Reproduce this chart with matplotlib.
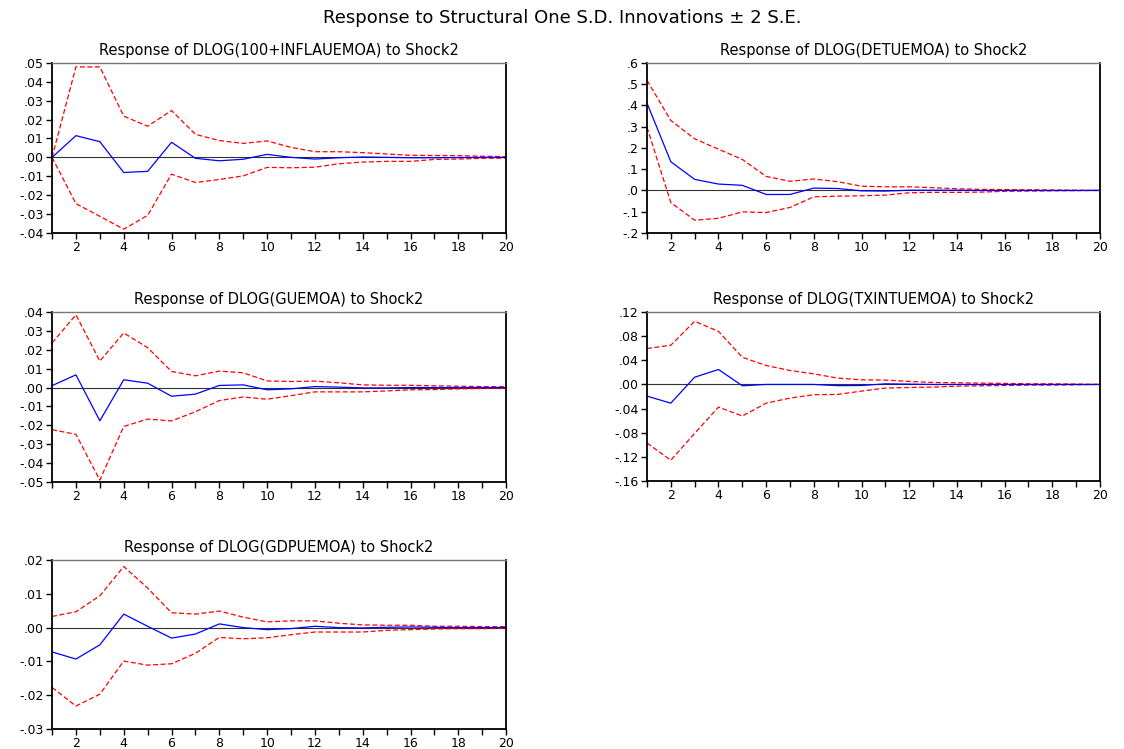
import matplotlib
matplotlib.use("Agg")
import matplotlib.pyplot as plt
from matplotlib.ticker import FuncFormatter, MultipleLocator

plt.rcParams['font.family'] = ['DejaVu Sans']

#horizon
steps = list(range(1, 21))

#response of DLOG(100+INFLAUEMOA)
infl_mid = [0.0, 0.0115, 0.0083, -0.0080, -0.0074, 0.0080, -0.0005, -0.0018, -0.0010, 0.0016,
            0.0000, -0.0009, -0.0002, 0.0002, 0.0000, -0.0002, -0.0002, -0.0001, 0.0000, 0.0000]
infl_hi = [0.0, 0.0479, 0.0479, 0.0218, 0.0165, 0.0248, 0.0122, 0.0089, 0.0074, 0.0087,
           0.0053, 0.0030, 0.0030, 0.0025, 0.0018, 0.0011, 0.0010, 0.0009, 0.0006, 0.0004]
infl_lo = [0.0, -0.0245, -0.0312, -0.0380, -0.0307, -0.0089, -0.0133, -0.0117, -0.0098, -0.0053,
           -0.0055, -0.0052, -0.0034, -0.0025, -0.0021, -0.0021, -0.0011, -0.0009, -0.0005, -0.0004]

#response of DLOG(DETUEMOA)
det_mid = [0.411, 0.135, 0.052, 0.030, 0.024, -0.019, -0.019, 0.011, 0.009, -0.002,
           -0.003, 0.001, 0.001, 0.001, 0.000, 0.000, 0.000, 0.000, 0.000, 0.000]
det_hi = [0.518, 0.329, 0.243, 0.194, 0.146, 0.066, 0.043, 0.054, 0.041, 0.020,
          0.017, 0.017, 0.013, 0.008, 0.005, 0.004, 0.003, 0.002, 0.001, 0.000]
det_lo = [0.298, -0.057, -0.140, -0.131, -0.101, -0.104, -0.080, -0.030, -0.027, -0.025,
          -0.022, -0.011, -0.009, -0.009, -0.008, -0.004, -0.003, -0.002, -0.001, 0.000]

#response of DLOG(GUEMOA)
g_mid = [0.0010, 0.0067, -0.0176, 0.0041, 0.0023, -0.0046, -0.0035, 0.0011, 0.0014, -0.0012,
         -0.0007, 0.0005, 0.0002, -0.0002, -0.0002, 0.0000, 0.0000, 0.0000, 0.0000, 0.0000]
g_hi = [0.0236, 0.0385, 0.0140, 0.0289, 0.0211, 0.0085, 0.0062, 0.0087, 0.0078, 0.0035,
        0.0032, 0.0034, 0.0025, 0.0014, 0.0012, 0.0012, 0.0009, 0.0007, 0.0005, 0.0004]
g_lo = [-0.0223, -0.0248, -0.0490, -0.0206, -0.0167, -0.0177, -0.0128, -0.0069, -0.0050, -0.0062,
        -0.0043, -0.0023, -0.0023, -0.0023, -0.0018, -0.0012, -0.0011, -0.0007, -0.0005, -0.0004]

#response of DLOG(TXINTUEMOA)
tx_mid = [-0.0193, -0.0310, 0.0120, 0.0248, -0.0022, 0.0000, 0.0000, 0.0000, -0.0020, -0.0017,
          0.0010, 0.0005, 0.0000, 0.0000, 0.0000, 0.0000, 0.0000, 0.0000, 0.0000, 0.0000]
tx_hi = [0.0595, 0.0650, 0.1047, 0.0880, 0.0450, 0.0314, 0.0231, 0.0176, 0.0105, 0.0077,
         0.0072, 0.0050, 0.0033, 0.0028, 0.0022, 0.0017, 0.0011, 0.0010, 0.0006, 0.0000]
tx_lo = [-0.0970, -0.1256, -0.0810, -0.0375, -0.0523, -0.0310, -0.0226, -0.0170, -0.0165, -0.0110,
         -0.0060, -0.0050, -0.0044, -0.0028, -0.0022, -0.0017, -0.0011, -0.0010, -0.0006, 0.0000]

#response of DLOG(GDPUEMOA)
gdp_mid = [-0.0072, -0.0093, -0.0051, 0.0040, 0.0004, -0.0031, -0.0019, 0.0011, 0.0000, -0.0006,
           -0.0003, 0.0004, 0.0000, -0.0001, 0.0001, 0.0002, 0.0001, 0.0000, 0.0000, 0.0000]
gdp_hi = [0.0033, 0.0047, 0.0094, 0.0181, 0.0117, 0.0044, 0.0040, 0.0049, 0.0031, 0.0017,
          0.0020, 0.0020, 0.0013, 0.0008, 0.0007, 0.0007, 0.0004, 0.0004, 0.0003, 0.0003]
gdp_lo = [-0.0177, -0.0232, -0.0197, -0.0099, -0.0111, -0.0107, -0.0076, -0.0029, -0.0033, -0.0030,
          -0.0021, -0.0013, -0.0013, -0.0013, -0.0008, -0.0006, -0.0004, -0.0003, -0.0003, -0.0002]

titles = ["Response of DLOG(100+INFLAUEMOA) to Shock2",
          "Response of DLOG(DETUEMOA) to Shock2",
          "Response of DLOG(GUEMOA) to Shock2",
          "Response of DLOG(TXINTUEMOA) to Shock2",
          "Response of DLOG(GDPUEMOA) to Shock2"]
mids = [infl_mid, det_mid, g_mid, tx_mid, gdp_mid]
his = [infl_hi, det_hi, g_hi, tx_hi, gdp_hi]
los = [infl_lo, det_lo, g_lo, tx_lo, gdp_lo]
ylims = [(-0.04, 0.05), (-0.2, 0.6), (-0.05, 0.04), (-0.16, 0.12), (-0.03, 0.02)]
ysteps = [0.01, 0.1, 0.01, 0.04, 0.01]
ydec = [2, 1, 2, 2, 2]

#axes boxes in figure fraction (left, bottom, width, height)
boxes = [[0.0463, 0.689, 0.404, 0.227],
         [0.5756, 0.689, 0.403, 0.227],
         [0.0463, 0.3565, 0.404, 0.227],
         [0.5756, 0.3578, 0.403, 0.2256],
         [0.0463, 0.0267, 0.404, 0.2256]]


def eviews_fmt(d):
    def f(v, pos):
        s = "%.*f" % (d, v)
        if abs(v) < 1e-9:
            s = "%.*f" % (d, 0.0)
        return s.replace("0.", ".", 1)
    return f


fig = plt.figure(figsize=(11.24, 7.49), dpi=100)
fig.text(0.5, 0.976, "Response to Structural One S.D. Innovations \u00b1 2 S.E.",
         ha='center', va='center', fontsize=13)

for i in range(5):
    ax = fig.add_axes(boxes[i])
    ax.axhline(0, color='#333333', lw=0.8)
    ax.plot(steps, his[i], color='#ff0000', lw=0.9, dashes=[4, 2])
    ax.plot(steps, los[i], color='#ff0000', lw=0.9, dashes=[4, 2])
    ax.plot(steps, mids[i], color='#0000ff', lw=0.9)
    ax.set_xlim(1, 20)
    ax.set_ylim(ylims[i])
    ax.xaxis.set_major_locator(MultipleLocator(2))
    ax.xaxis.set_minor_locator(MultipleLocator(1))
    ax.yaxis.set_major_locator(MultipleLocator(ysteps[i]))
    ax.yaxis.set_major_formatter(FuncFormatter(eviews_fmt(ydec[i])))
    ax.tick_params(axis='both', labelsize=9, length=4, width=1, direction='out', pad=2)
    ax.tick_params(axis='x', which='minor', length=4, width=1, direction='out')
    for side in ['left', 'bottom', 'right']:
        ax.spines[side].set_linewidth(1.3)
        ax.spines[side].set_color('black')
    ax.spines['top'].set_linewidth(1.0)
    ax.spines['top'].set_color('#777777')
    ax.set_title(titles[i], fontsize=10.5, pad=6)

plt.savefig("out.png", dpi=100)
